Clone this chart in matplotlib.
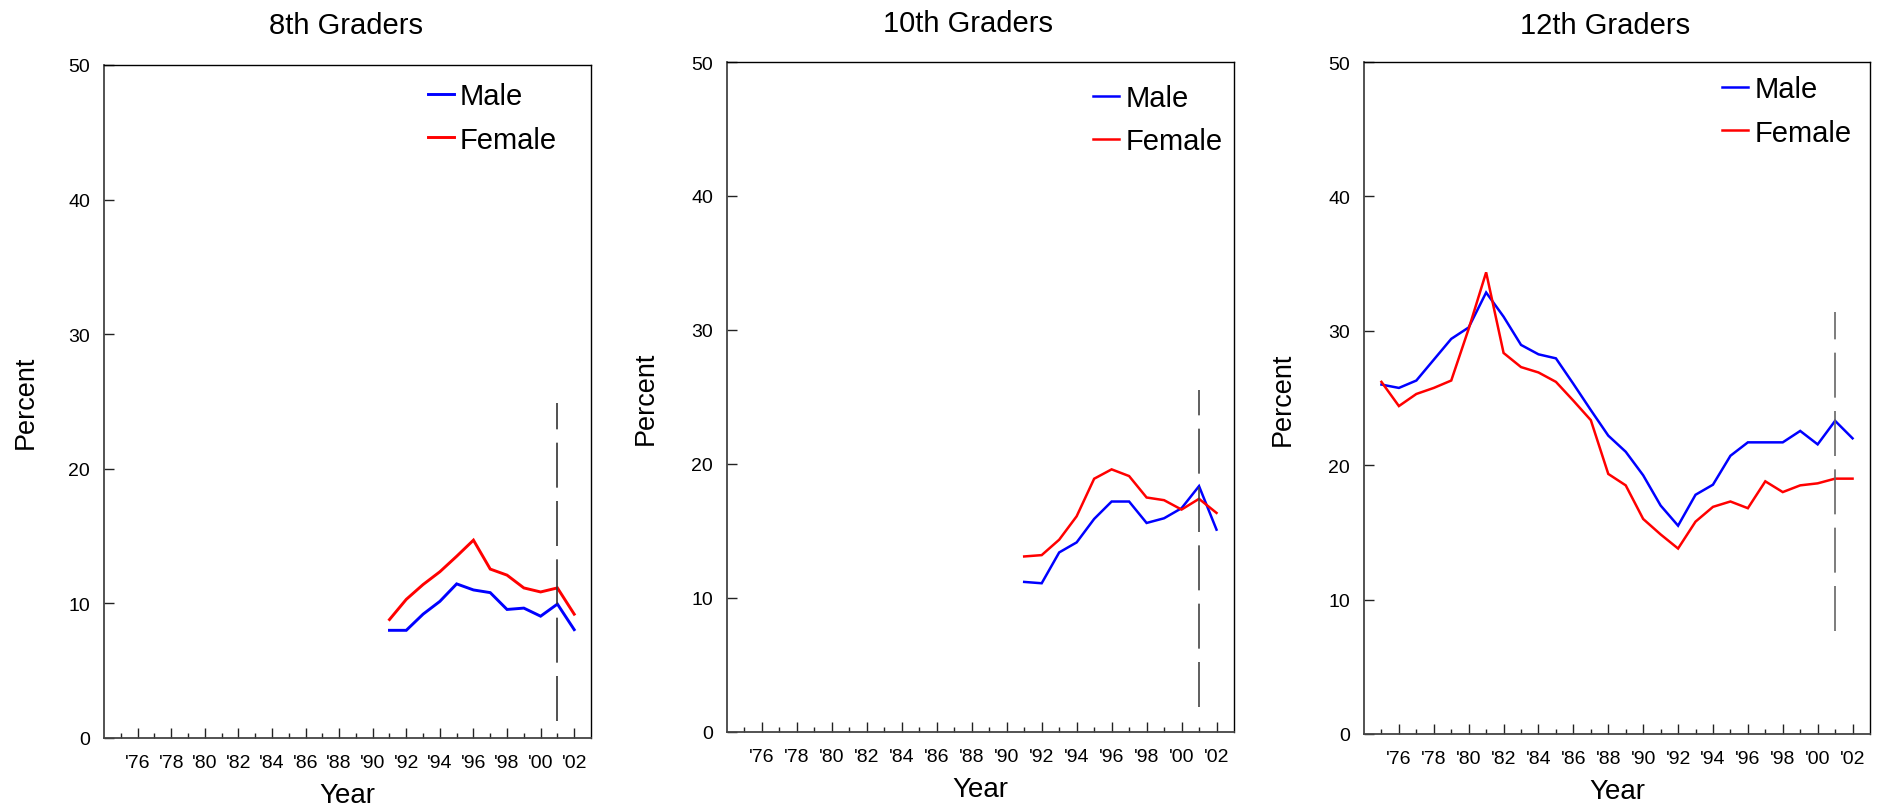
import matplotlib
matplotlib.use("Agg")
import matplotlib.pyplot as plt

plt.rcParams['font.family'] = ['Liberation Sans', 'DejaVu Sans']

# ---------------- data ----------------
titles = ["8th Graders", "10th Graders", "12th Graders"]

years_8 = [1991, 1992, 1993, 1994, 1995, 1996, 1997, 1998, 1999, 2000, 2001, 2002]
male_8 = [8.0, 8.0, 9.2, 10.15, 11.45, 11.0, 10.8, 9.55, 9.65, 9.05, 9.95, 8.05]
female_8 = [8.8, 10.3, 11.4, 12.35, 13.5, 14.7, 12.55, 12.1, 11.15, 10.85, 11.15, 9.2]

years_10 = [1991, 1992, 1993, 1994, 1995, 1996, 1997, 1998, 1999, 2000, 2001, 2002]
male_10 = [11.2, 11.1, 13.4, 14.15, 15.9, 17.2, 17.2, 15.6, 15.95, 16.7, 18.35, 15.1]
female_10 = [13.1, 13.2, 14.35, 16.1, 18.9, 19.6, 19.1, 17.5, 17.3, 16.6, 17.4, 16.35]

years_12 = [1975, 1976, 1977, 1978, 1979, 1980, 1981, 1982, 1983, 1984, 1985, 1986, 1987, 1988,
            1989, 1990, 1991, 1992, 1993, 1994, 1995, 1996, 1997, 1998, 1999, 2000, 2001, 2002]
male_12 = [26.0, 25.75, 26.3, 27.85, 29.4, 30.25, 32.85, 31.05, 28.95, 28.25, 27.95, 26.05, 24.1, 22.2,
           21.0, 19.25, 17.0, 15.5, 17.8, 18.55, 20.7, 21.7, 21.7, 21.7, 22.55, 21.55, 23.3, 22.0]
female_12 = [26.2, 24.4, 25.3, 25.75, 26.3, 30.15, 34.35, 28.35, 27.3, 26.9, 26.2, 24.8, 23.35, 19.35,
             18.5, 16.0, 14.85, 13.8, 15.8, 16.9, 17.3, 16.8, 18.8, 18.0, 18.5, 18.65, 19.0, 19.0]

# vertical dashed marker (year, low, high) per panel
marker_year = 2001
marker_low = [1.3, 1.85, 7.7]
marker_high = [24.9, 25.5, 31.4]

major_years = [1976, 1978, 1980, 1982, 1984, 1986, 1988, 1990, 1992, 1994, 1996, 1998, 2000, 2002]
major_labels = ["'76", "'78", "'80", "'82", "'84", "'86", "'88", "'90", "'92", "'94", "'96", "'98", "'00", "'02"]
minor_years = [1975, 1977, 1979, 1981, 1983, 1985, 1987, 1989, 1991, 1993, 1995, 1997, 1999, 2001]
y_ticks = [0, 10, 20, 30, 40, 50]

series = [
    (years_8, male_8, female_8),
    (years_10, male_10, female_10),
    (years_12, male_12, female_12),
]

# ---------------- layout ----------------
W, H = 1877, 812
fig = plt.figure(figsize=(W / 100, H / 100), dpi=100)

# pixel boxes: left, top, right, bottom
boxes = [(104, 66, 591, 739), (727, 63, 1234, 733), (1364, 63, 1870, 735)]
legend_anchor = [(0.665, 0.974), (0.722, 0.967), (0.708, 0.980)]
title_pad = [23, 22, 21]
title_x = [0.497, 0.476, 0.476]
line_w = [2.1, 1.8, 1.8]
marker_col = ['#333333', '#444444', '#666666']

for i, (l, t, r, b) in enumerate(boxes):
    ax = fig.add_axes([l / W, (H - b) / H, (r - l) / W, (b - t) / H])
    yrs, m, f = series[i]
    ax.plot(yrs, m, color='#0000FF', lw=line_w[i], label='Male', solid_joinstyle='miter')
    ax.plot(yrs, f, color='#FF0000', lw=line_w[i], label='Female', solid_joinstyle='miter')
    ax.vlines(marker_year, marker_low[i], marker_high[i], colors=marker_col[i], lw=1.2,
              linestyles=(0, (27, 8)))

    ax.set_xlim(1974, 2003)
    ax.set_ylim(0, 50)
    ax.set_xticks(major_years)
    ax.set_xticklabels(major_labels)
    ax.set_xticks(minor_years, minor=True)
    ax.set_yticks(y_ticks)
    ax.set_yticklabels([str(v) for v in y_ticks])

    ax.tick_params(axis='both', which='major', direction='in', length=7, width=1.0,
                   labelsize=14, pad=10, color='#222222')
    ax.tick_params(axis='x', which='major', pad=11.5)
    ax.tick_params(axis='x', which='minor', direction='in', length=3.6, width=1.0, color='#222222')

    for side in ['top', 'right']:
        ax.spines[side].set_color('black')
        ax.spines[side].set_linewidth(1.0)
    for side in ['left', 'bottom']:
        ax.spines[side].set_color('#444444')
        ax.spines[side].set_linewidth(1.3)

    ax.set_title(titles[i], fontsize=21, pad=title_pad[i])
    ax.title.set_x(title_x[i])
    ax.set_ylabel('Percent', fontsize=19.5)
    ax.yaxis.set_label_coords(-0.135, 0.5)
    ax.set_xlabel('Year', fontsize=20)
    ax.xaxis.set_label_coords(0.5, -0.066)

    ax.legend(loc='upper left', bbox_to_anchor=legend_anchor[i], frameon=False,
              fontsize=21, handlelength=0.9, handletextpad=0.2, labelspacing=0.52,
              borderpad=0, borderaxespad=0)

fig.savefig('out.png', dpi=100)
